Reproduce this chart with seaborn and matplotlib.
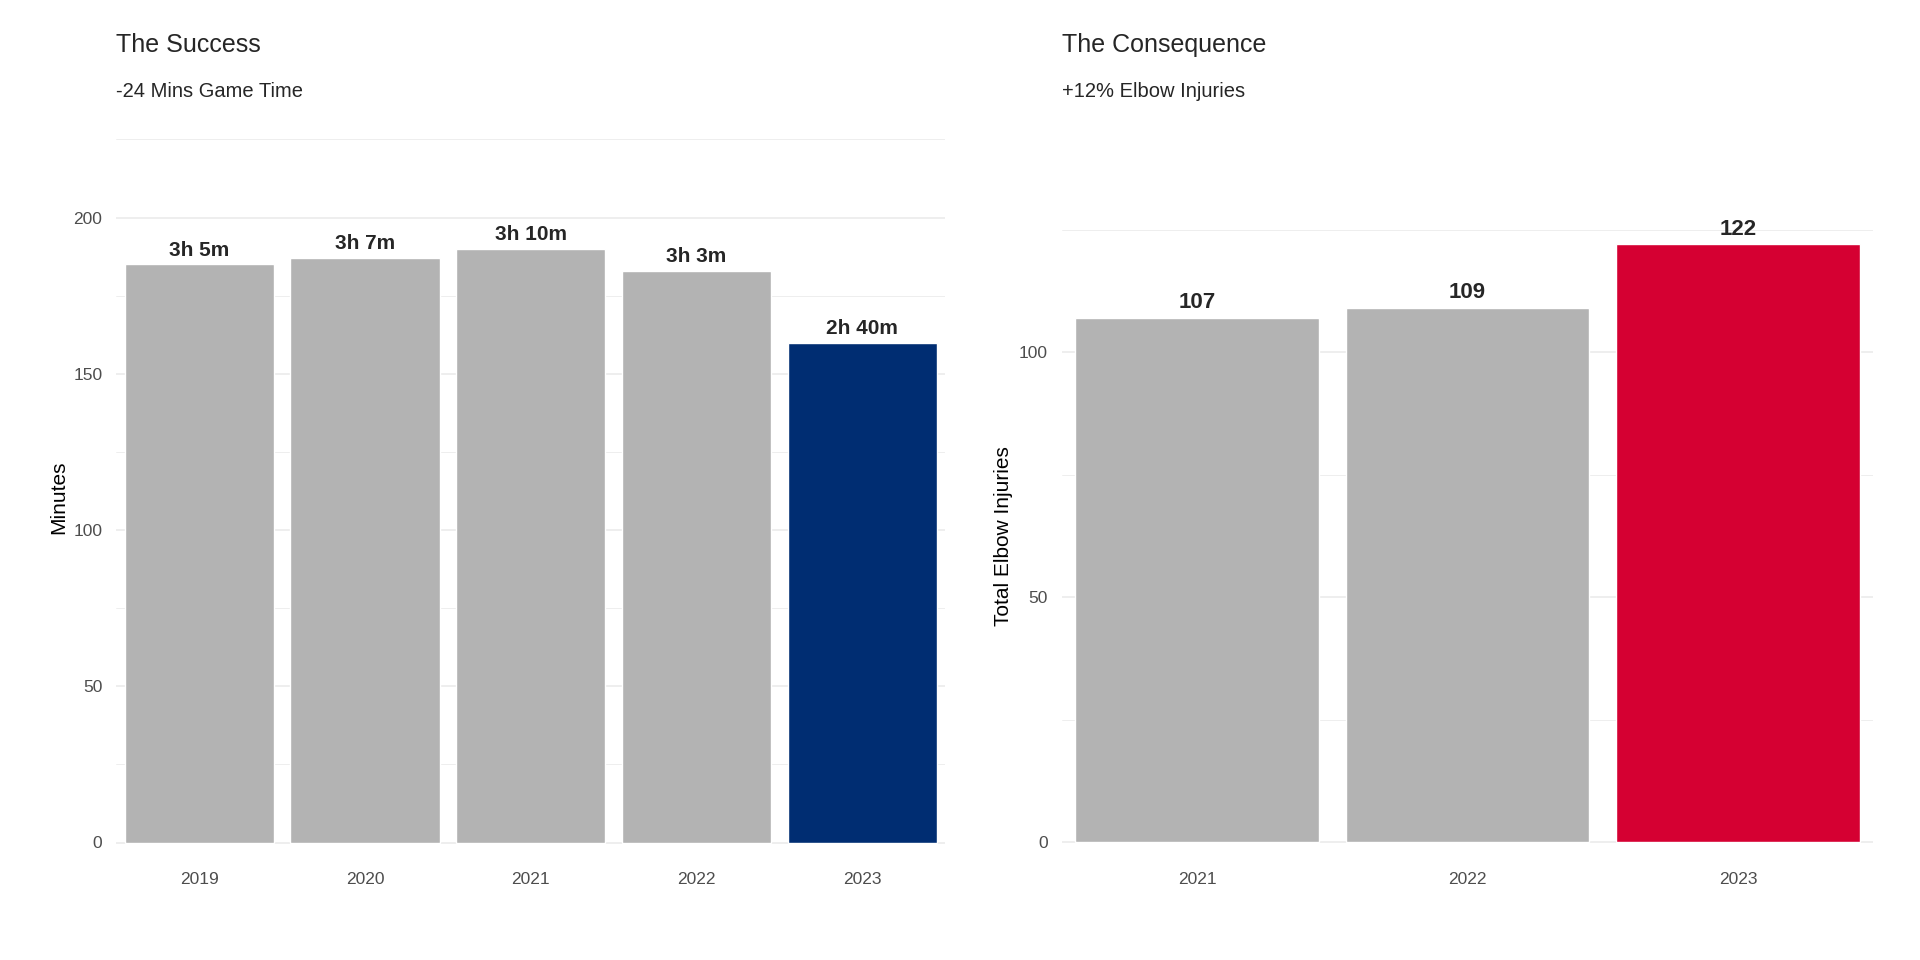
import matplotlib
matplotlib.use("Agg")
import matplotlib.pyplot as plt
import seaborn as sns
import pandas as pd
from matplotlib.ticker import MultipleLocator

years_left = ["2019", "2020", "2021", "2022", "2023"]
minutes = [185, 187, 190, 183, 160]
time_labels = ["3h 5m", "3h 7m", "3h 10m", "3h 3m", "2h 40m"]

years_right = ["2021", "2022", "2023"]
injuries = [107, 109, 122]

grey = "#b3b3b3"
navy = "#002d72"
red = "#d50032"

sns.set_theme(style="white")
plt.rcParams['font.family'] = ['Liberation Sans', 'DejaVu Sans']

fig = plt.figure(figsize=(19.2, 9.6), dpi=100)
H = 768.0
W = 1568.0
bottom = 1 - 686.5 / H
ax1 = fig.add_axes([95 / W, bottom, (772 - 95) / W, (1 - 109 / H) - bottom])
ax2 = fig.add_axes([867 / W, bottom, (1530 - 867) / W, (1 - 172 / H) - bottom])


def style(ax, major, minor):
    ax.yaxis.set_major_locator(MultipleLocator(major))
    ax.yaxis.set_minor_locator(MultipleLocator(minor))
    ax.grid(which="major", axis="y", color="#ebebeb", lw=1.2)
    ax.grid(which="minor", axis="y", color="#ebebeb", lw=0.6)
    ax.set_axisbelow(True)
    for s in ax.spines.values():
        s.set_visible(False)
    ax.tick_params(axis="both", which="both", length=0, labelsize=12.5,
                   colors="#4d4d4d", pad=10)
    ax.set_xlabel("")


df1 = pd.DataFrame({"year": years_left, "min": minutes})
sns.barplot(data=df1, x="year", y="min", hue="year",
            palette=[grey] * 4 + [navy], width=0.9, legend=False, ax=ax1,
            saturation=1)
ax1.set_ylim(-5, 226)
style(ax1, 50, 25)
ax1.set_ylabel("Minutes", fontsize=15, color="black")
for i, (v, t) in enumerate(zip(minutes, time_labels)):
    ax1.text(i, v + 1.5, t, ha="center", va="bottom", fontsize=15, fontweight="bold")

df2 = pd.DataFrame({"year": years_right, "inj": injuries})
sns.barplot(data=df2, x="year", y="inj", hue="year",
            palette=[grey, grey, red], width=0.9, legend=False, ax=ax2,
            saturation=1)
ax2.set_ylim(-3.2, 128)
style(ax2, 50, 25)
ax2.set_ylabel("Total Elbow Injuries", fontsize=15, color="black")
for i, v in enumerate(injuries):
    ax2.text(i, v + 1, str(v), ha="center", va="bottom", fontsize=16, fontweight="bold")

fig.text(95 / W, 1 - 36 / H, "The Success", fontsize=18, va="center")
fig.text(95 / W, 1 - 73 / H, "-24 Mins Game Time", fontsize=14.5, va="center")
fig.text(867 / W, 1 - 36 / H, "The Consequence", fontsize=18, va="center")
fig.text(867 / W, 1 - 73 / H, "+12% Elbow Injuries", fontsize=14.5, va="center")

fig.savefig("out.png", dpi=100, facecolor="white")
